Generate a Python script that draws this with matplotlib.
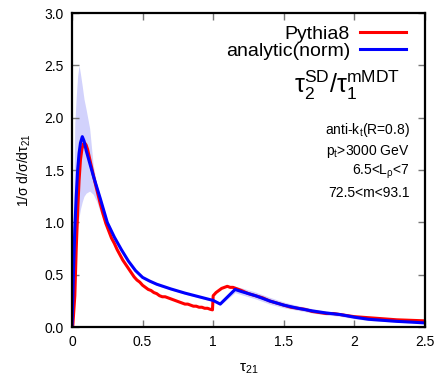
import numpy as np
import matplotlib
matplotlib.use("Agg")
import matplotlib.pyplot as plt

plt.rcParams['font.family'] = ['Liberation Sans', 'DejaVu Sans']
plt.rcParams['mathtext.fontset'] = 'custom'
plt.rcParams['mathtext.rm'] = 'Liberation Sans'
plt.rcParams['mathtext.it'] = 'Liberation Sans'
plt.rcParams['mathtext.default'] = 'regular'

# analytic (normalised) curve and its uncertainty band
x_an = [0.0, 0.01, 0.02, 0.03, 0.04, 0.05, 0.06, 0.073, 0.085, 0.1, 0.125, 0.15,
        0.175, 0.2, 0.25, 0.3, 0.35, 0.4, 0.45, 0.5, 0.55, 0.6, 0.7, 0.8, 0.9,
        1.0, 1.05, 1.155, 1.2, 1.3, 1.4, 1.5, 1.6, 1.7, 1.8, 1.9, 2.0, 2.1, 2.2,
        2.3, 2.4, 2.5]
y_an = [0.0, 0.5, 0.95, 1.25, 1.5, 1.66, 1.76, 1.82, 1.78, 1.69, 1.57, 1.45,
        1.34, 1.23, 1.0, 0.86, 0.74, 0.63, 0.54, 0.475, 0.44, 0.41, 0.365, 0.325, 0.29,
        0.255, 0.22, 0.36, 0.34, 0.30, 0.25, 0.21, 0.18, 0.155, 0.135, 0.12, 0.095,
        0.075, 0.065, 0.055, 0.048, 0.04]
band_lo = [0.0, 0.3, 0.6, 0.8, 0.95, 1.05, 1.13, 1.2, 1.25, 1.28, 1.3, 1.27,
           1.2, 1.1, 0.95, 0.85, 0.73, 0.62, 0.53, 0.465, 0.43, 0.40, 0.355, 0.315, 0.28,
           0.245, 0.21, 0.33, 0.31, 0.27, 0.22, 0.185, 0.16, 0.135, 0.117, 0.103, 0.08,
           0.063, 0.055, 0.047, 0.041, 0.035]
band_hi = [0.0, 1.0, 1.95, 2.2, 2.4, 2.5, 2.42, 2.3, 2.18, 2.08, 1.9, 1.55,
           1.37, 1.25, 1.02, 0.87, 0.75, 0.64, 0.55, 0.485, 0.45, 0.42, 0.375, 0.335, 0.30,
           0.265, 0.23, 0.39, 0.375, 0.335, 0.285, 0.24, 0.205, 0.177, 0.155, 0.137, 0.11,
           0.088, 0.076, 0.064, 0.055, 0.046]

# Pythia8 histogram
x_py = [0.005, 0.01, 0.02, 0.03, 0.04, 0.05, 0.06, 0.07, 0.08, 0.09, 0.1, 0.11,
        0.12, 0.13, 0.14, 0.15, 0.16, 0.18, 0.2, 0.22, 0.24, 0.26, 0.28, 0.3, 0.32,
        0.34, 0.36, 0.38, 0.4, 0.42, 0.44, 0.46, 0.48, 0.5, 0.52, 0.54, 0.56, 0.58,
        0.6, 0.62, 0.64, 0.66, 0.68, 0.7, 0.72, 0.74, 0.76, 0.78, 0.8, 0.82, 0.84,
        0.86, 0.88, 0.9, 0.92, 0.94, 0.96, 0.98, 0.995, 1.0, 1.02, 1.04, 1.06, 1.08,
        1.1, 1.12, 1.14, 1.16, 1.18, 1.2, 1.25, 1.3, 1.35, 1.4, 1.45, 1.5, 1.55, 1.6,
        1.65, 1.7, 1.75, 1.8, 1.85, 1.9, 1.95, 2.0, 2.05, 2.1, 2.2, 2.3, 2.4, 2.5]
y_py = [0.0, 0.1, 0.3, 0.75, 1.1, 1.4, 1.6, 1.7, 1.75, 1.76, 1.74, 1.7,
        1.64, 1.58, 1.52, 1.46, 1.40, 1.29, 1.18, 1.08, 0.99, 0.92, 0.85, 0.80, 0.74,
        0.69, 0.64, 0.60, 0.56, 0.52, 0.48, 0.45, 0.43, 0.40, 0.38, 0.36, 0.35, 0.33,
        0.32, 0.30, 0.29, 0.29, 0.28, 0.27, 0.26, 0.25, 0.24, 0.23, 0.22, 0.22, 0.21,
        0.20, 0.20, 0.19, 0.19, 0.18, 0.18, 0.17, 0.165, 0.30, 0.33, 0.35, 0.37, 0.38,
        0.39, 0.38, 0.38, 0.37, 0.36, 0.35, 0.32, 0.30, 0.28, 0.25, 0.23, 0.21, 0.19, 0.18,
        0.17, 0.15, 0.14, 0.13, 0.13, 0.12, 0.11, 0.10, 0.095, 0.09, 0.08, 0.07, 0.065, 0.06]

info_lines = ['anti-k$_t$(R=0.8)', 'p$_t$>3000 GeV', '6.5<L$_\\rho$<7', '72.5<m<93.1']

fig = plt.figure(figsize=(4.39, 3.76), dpi=100)
ax = fig.add_axes([0.164, 0.130, 0.804, 0.835])

ax.fill_between(x_an, band_lo, band_hi, color='#d2d2fc', lw=0)
ax.plot(x_py, y_py, color='#ff0000', lw=2.2, label='Pythia8')
ax.plot(x_an, y_an, color='#0000ff', lw=2.2, label='analytic(norm)')

ax.set_xlim(0, 2.5)
ax.set_ylim(0, 3.0)
ax.set_xticks([0, 0.5, 1, 1.5, 2, 2.5])
ax.set_xticklabels(['0', '0.5', '1', '1.5', '2', '2.5'])
ax.set_yticks(np.arange(0, 3.01, 0.5))
ax.set_yticklabels(['%.1f' % v for v in np.arange(0, 3.01, 0.5)])
ax.tick_params(direction='in', length=5, width=1, color='#777777', labelsize=10,
               top=True, right=True, pad=6)
for s in ax.spines.values():
    s.set_linewidth(1.6)

ax.set_xlabel(r'$\tau_{21}$', fontsize=11, labelpad=9)
ax.set_ylabel(r'1/$\sigma$ d/$\sigma$/d$\tau_{21}$', fontsize=10, labelpad=8)

ax.legend(loc='upper right', bbox_to_anchor=(0.964, 0.979), markerfirst=False,
          frameon=False, fontsize=14, handlelength=2.4, handletextpad=0.5,
          labelspacing=-0.06, borderaxespad=0, borderpad=0.3)

ax.text(0.929, 0.745, r'$\tau_2^{SD}/\tau_1^{mMDT}$', transform=ax.transAxes,
        ha='right', va='baseline', fontsize=18)
for i, line in enumerate(info_lines):
    ax.text(0.957, 0.627 - i * 0.067, line, transform=ax.transAxes,
            ha='right', va='center', fontsize=10)

fig.savefig('out.png', dpi=100)
